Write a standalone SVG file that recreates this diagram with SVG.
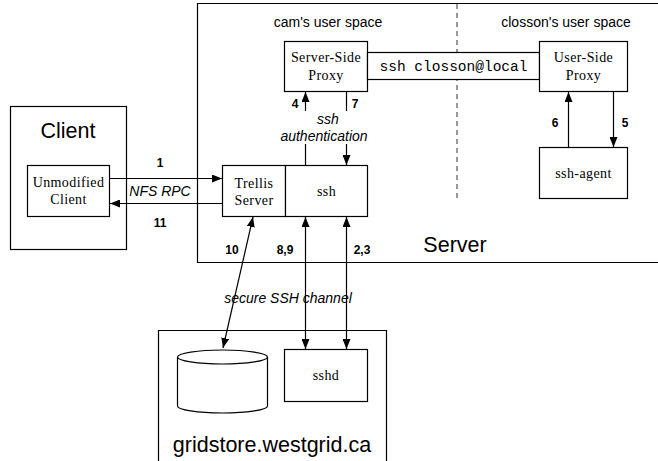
<svg xmlns="http://www.w3.org/2000/svg" width="658" height="461" viewBox="0 0 658 461">
<style>
.box{fill:#fff;stroke:#000;stroke-width:1.2}
.frame{fill:none;stroke:#000;stroke-width:1.2}
.ln{fill:none;stroke:#000;stroke-width:1.2}
.tm{font-family:"Liberation Serif",serif;font-size:14px;letter-spacing:0.4px;text-anchor:middle}
.hv{font-family:"Liberation Sans",sans-serif;font-size:14px;text-anchor:middle}
.big{font-family:"Liberation Sans",sans-serif;font-size:21.5px;text-anchor:middle}
.num{font-family:"Liberation Sans",sans-serif;font-size:12px;font-weight:bold;text-anchor:middle}
.it{font-family:"Liberation Sans",sans-serif;font-size:14px;font-style:italic;text-anchor:middle}
.mono{font-family:"Liberation Mono",monospace;font-size:14.5px;text-anchor:middle}
</style>
<defs>
<marker id="ah" viewBox="0 0 10 8" refX="10" refY="4" markerWidth="10" markerHeight="8" markerUnits="userSpaceOnUse" orient="auto-start-reverse">
<path d="M0,0 L10,4 L0,8 Z" fill="#000"/>
</marker>
</defs>
<rect width="658" height="461" fill="#fff"/>
<g id="server">
<path class="frame" d="M665,3.5 H197.5 V262.5 H665"/>
<line x1="457" y1="4" x2="457" y2="198" stroke="#555" stroke-width="1.2" stroke-dasharray="5,4"/>
<text class="hv" x="328" y="27">cam's user space</text>
<text class="hv" x="566" y="27">closson's user space</text>
<text class="big" x="455" y="252">Server</text>
</g>
<g id="client">
<rect class="frame" x="10.5" y="106.5" width="116" height="143"/>
<text class="big" x="68" y="138">Client</text>
</g>
<g id="gridstore">
<path class="frame" d="M158.5,470 V330.5 H386.5 V470"/>
<text class="big" x="272" y="452">gridstore.westgrid.ca</text>
</g>
<g id="unmodified-client">
<rect class="box" x="27.5" y="165.5" width="82" height="51"/>
<text class="tm" x="68.5" y="187">Unmodified</text>
<text class="tm" x="68.5" y="204">Client</text>
</g>
<g id="trellis-server">
<rect class="box" x="222.5" y="165.5" width="63" height="51"/>
<text class="tm" x="254" y="188">Trellis</text>
<text class="tm" x="254" y="205">Server</text>
</g>
<g id="ssh">
<rect class="box" x="285.5" y="165.5" width="82" height="51"/>
<text class="tm" x="326.5" y="196">ssh</text>
</g>
<g id="server-side-proxy">
<rect class="box" x="284.5" y="41.5" width="83" height="50"/>
<text class="tm" x="326" y="62">Server-Side</text>
<text class="tm" x="326" y="80">Proxy</text>
</g>
<g id="ssh-tunnel">
<rect class="box" x="367.5" y="52.5" width="172" height="27"/>
<text class="mono" x="453.5" y="71">ssh closson@local</text>
</g>
<g id="user-side-proxy">
<rect class="box" x="539.5" y="41.5" width="88" height="50"/>
<text class="tm" x="583.5" y="62">User-Side</text>
<text class="tm" x="583.5" y="80">Proxy</text>
</g>
<g id="ssh-agent">
<rect class="box" x="539.5" y="147.5" width="88" height="51"/>
<text class="tm" x="583.5" y="178">ssh-agent</text>
</g>
<g id="storage">
<path class="box" d="M177.5,357 V406 A45,7 0 0 0 267.5,406 V357 A45,7 0 0 0 177.5,357 A45,7 0 0 0 267.5,357"/>
</g>
<g id="sshd">
<rect class="box" x="284.5" y="349.5" width="83" height="52"/>
<text class="tm" x="326" y="380">sshd</text>
</g>
<g id="connectors">
<line class="ln" x1="110" y1="178.5" x2="222" y2="178.5" marker-end="url(#ah)"/>
<line class="ln" x1="222" y1="203.5" x2="110" y2="203.5" marker-end="url(#ah)"/>
<line class="ln" x1="305.5" y1="165" x2="305.5" y2="92" marker-end="url(#ah)"/>
<line class="ln" x1="346.5" y1="92" x2="346.5" y2="165" marker-end="url(#ah)"/>
<line class="ln" x1="568.5" y1="147" x2="568.5" y2="92" marker-end="url(#ah)"/>
<line class="ln" x1="613.5" y1="92" x2="613.5" y2="147" marker-end="url(#ah)"/>
<line class="ln" x1="305.5" y1="217" x2="305.5" y2="349" marker-start="url(#ah)" marker-end="url(#ah)"/>
<line class="ln" x1="346.5" y1="217" x2="346.5" y2="349" marker-start="url(#ah)" marker-end="url(#ah)"/>
<line class="ln" x1="253" y1="217" x2="223" y2="348" marker-start="url(#ah)" marker-end="url(#ah)"/>
<rect x="282" y="111" width="88" height="33" fill="#fff"/>
<text class="it" x="328" y="124">ssh</text>
<text class="it" x="324" y="141">authentication</text>
<text class="it" x="160" y="196">NFS RPC</text>
<text class="it" x="288" y="303">secure SSH channel</text>
<text class="num" x="160" y="167">1</text>
<text class="num" x="160" y="227">11</text>
<text class="num" x="295" y="108">4</text>
<text class="num" x="355" y="108">7</text>
<text class="num" x="555" y="127">6</text>
<text class="num" x="625" y="127">5</text>
<text class="num" x="232" y="254">10</text>
<text class="num" x="285" y="254">8,9</text>
<text class="num" x="362" y="254">2,3</text>
</g>
</svg>
